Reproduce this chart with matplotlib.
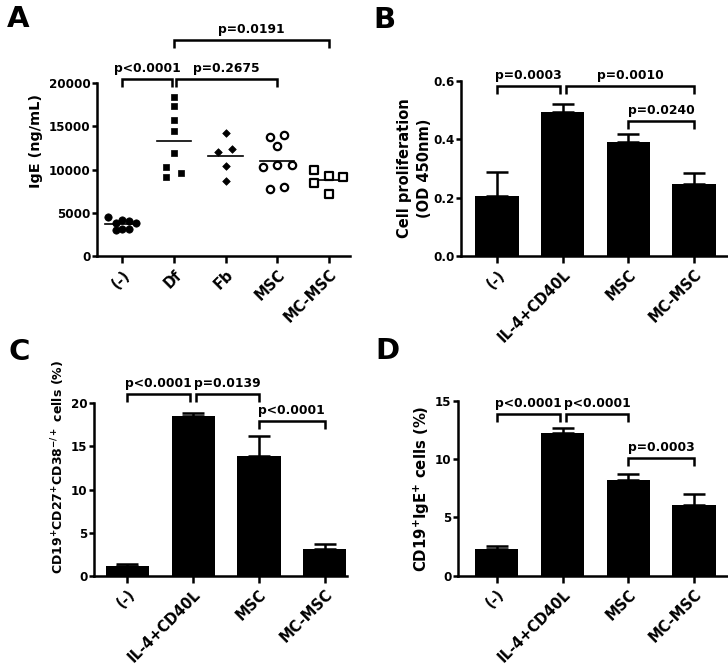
import matplotlib
matplotlib.use("Agg")
import matplotlib.pyplot as plt
import numpy as np

plt.rcParams["font.family"] = ["DejaVu Sans"]
plt.rcParams["font.weight"] = "bold"
plt.rcParams["axes.labelweight"] = "bold"
plt.rcParams["mathtext.default"] = "bf"
plt.rcParams["mathtext.fontset"] = "dejavusans"

# ---- panel A: IgE scatter (ng/mL)
a_groups = ["(-)", "Df", "Fb", "MSC", "MC-MSC"]
a_neg = [4550, 3850, 4150, 4100, 3780, 3050, 3080, 3080]
a_df = [18340, 17340, 15720, 14490, 11870, 10250, 9170, 9560]
a_fb = [14260, 12020, 12410, 10400, 8710]
a_msc = [13720, 14030, 12760, 10290, 10560, 10520, 7780, 8020]
a_mcmsc = [9940, 9290, 9170, 8480, 7210]
a_pvals = ["p<0.0001", "p=0.2675", "p=0.0191"]
a_pairs = [(0, 1), (1, 3), (1, 4)]
a_heights = [20460, 20460, 25000]

# ---- panel B: cell proliferation (OD 450nm)
b_groups = ["(-)", "IL-4+CD40L", "MSC", "MC-MSC"]
b_mean = [0.207, 0.493, 0.392, 0.247]
b_err = [0.080, 0.030, 0.025, 0.037]
b_pvals = ["p=0.0003", "p=0.0010", "p=0.0240"]
b_pairs = [(0, 1), (1, 3), (2, 3)]
b_heights = [0.583, 0.583, 0.462]

# ---- panel C: CD19+CD27+CD38-/+ cells (%)
c_groups = ["(-)", "IL-4+CD40L", "MSC", "MC-MSC"]
c_mean = [1.16, 18.49, 13.93, 3.13]
c_err = [0.23, 0.35, 2.32, 0.51]
c_pvals = ["p<0.0001", "p=0.0139", "p<0.0001"]
c_pairs = [(0, 1), (1, 2), (2, 3)]
c_heights = [21.07, 21.07, 17.95]

# ---- panel D: CD19+IgE+ cells (%)
d_groups = ["(-)", "IL-4+CD40L", "MSC", "MC-MSC"]
d_mean = [2.32, 12.28, 8.19, 6.04]
d_err = [0.26, 0.37, 0.57, 0.95]
d_pvals = ["p<0.0001", "p<0.0001", "p=0.0003"]
d_pairs = [(0, 1), (1, 2), (2, 3)]
d_heights = [13.88, 13.88, 10.08]

# horizontal spread of overlapping dots in panel A (category units)
a_offsets = [
    [-0.27, -0.13, 0.0, 0.13, 0.27, -0.13, 0.0, 0.13],
    [0.0, 0.0, 0.0, 0.0, 0.0, -0.15, -0.15, 0.135],
    [0.0, -0.14, 0.13, 0.0, 0.0],
    [-0.14, 0.135, 0.0, -0.27, 0.0, 0.28, -0.14, 0.135],
    [-0.28, 0.0, 0.27, -0.28, 0.0],
]

LW = 1.8


def style_axes(ax, groups, ymax, step, fmt):
    for side in ("top", "right"):
        ax.spines[side].set_visible(False)
    for side in ("left", "bottom"):
        ax.spines[side].set_linewidth(LW)
    ticks = np.arange(0, ymax + step / 2, step)
    ax.set_ylim(0, ymax)
    ax.set_yticks(ticks)
    ax.set_yticklabels([fmt.format(v) for v in ticks])
    ax.set_xticks(range(len(groups)))
    ax.set_xticklabels(groups, rotation=45, ha="right", va="top",
                       rotation_mode="anchor", fontsize=10.5)
    ax.tick_params(axis="x", direction="out", length=5, width=LW, pad=3)
    ax.tick_params(axis="y", direction="out", length=3.5, width=LW,
                   labelsize=8.6, pad=1.2)


def add_brackets(ax, pairs, heights, labels, ymax, gap=0.045):
    drop = 0.045 * ymax
    for (i, j), h, lab in zip(pairs, heights, labels):
        x1, x2 = float(i), float(j)
        for (k, l), hh in zip(pairs, heights):
            if hh != h:
                continue
            if l == i and (k, l) != (i, j):
                x1 += gap
            if k == j and (k, l) != (i, j):
                x2 -= gap
        ax.plot([x1, x1, x2, x2], [h - drop, h, h, h - drop], color="black",
                lw=LW, clip_on=False, solid_capstyle="butt", solid_joinstyle="miter")
        ax.annotate(lab, xy=((x1 + x2) / 2, h), xytext=(0, 5), textcoords="offset points",
                    ha="center", va="baseline", fontsize=8.9, annotation_clip=False)


def bar_panel(ax, groups, means, errs):
    x = np.arange(len(groups))
    ax.bar(x, means, width=0.66, color="black", zorder=2)
    ax.errorbar(x, means, yerr=[np.zeros(len(errs)), errs], fmt="none",
                ecolor="black", elinewidth=LW, capsize=7.8, capthick=LW,
                zorder=1, clip_on=False)


fig = plt.figure(figsize=(7.28, 6.72), dpi=100)

# Panel A
ax = fig.add_axes([0.1332, 0.6190, 0.3475, 0.2574])
a_series = [a_neg, a_df, a_fb, a_msc, a_mcmsc]
a_markers = [
    dict(marker="o", s=28, facecolor="black", edgecolor="black", linewidths=0.5),
    dict(marker="s", s=24, facecolor="black", edgecolor="black", linewidths=0.5),
    dict(marker="D", s=15, facecolor="black", edgecolor="black", linewidths=0.5),
    dict(marker="o", s=28, facecolor="white", edgecolor="black", linewidths=1.6),
    dict(marker="s", s=26, facecolor="white", edgecolor="black", linewidths=1.6),
]
for i, (vals, offs, mk) in enumerate(zip(a_series, a_offsets, a_markers)):
    ax.scatter(i + np.array(offs), vals, zorder=3, clip_on=False, **mk)
    m = np.mean(vals)
    ax.plot([i - 0.33, i + 0.33], [m, m], color="black", lw=1.2, zorder=2)
style_axes(ax, a_groups, 20000, 5000, "{:.0f}")
ax.set_xlim(-0.49, 4.41)
ax.set_ylabel("IgE (ng/mL)", fontsize=10.4)
ax.yaxis.set_label_coords(-0.215, 0.665)
add_brackets(ax, a_pairs, a_heights, a_pvals, 20000)

# Panel B
ax = fig.add_axes([0.6332, 0.6190, 0.3654, 0.2604])
bar_panel(ax, b_groups, b_mean, b_err)
style_axes(ax, b_groups, 0.6, 0.2, "{:.1f}")
ax.set_xlim(-0.55, 3.5)
ax.set_ylabel("Cell proliferation\n(OD 450nm)", fontsize=10.5, linespacing=1.45)
ax.yaxis.set_label_coords(-0.108, 0.5)
add_brackets(ax, b_pairs, b_heights, b_pvals, 0.6)

# Panel C
ax = fig.add_axes([0.1291, 0.1433, 0.3475, 0.2565])
bar_panel(ax, c_groups, c_mean, c_err)
style_axes(ax, c_groups, 20, 5, "{:.0f}")
ax.set_xlim(-0.51, 3.34)
ax.set_ylabel("CD19$^{+}$CD27$^{+}$CD38$^{-/+}$ cells (%)", fontsize=9.0)
ax.yaxis.set_label_coords(-0.107, 0.632)
add_brackets(ax, c_pairs, c_heights, c_pvals, 20)

# Panel D
ax = fig.add_axes([0.6291, 0.1433, 0.3695, 0.2600])
bar_panel(ax, d_groups, d_mean, d_err)
style_axes(ax, d_groups, 15, 5, "{:.0f}")
ax.set_xlim(-0.59, 3.5)
ax.set_ylabel("CD19$^{+}$IgE$^{+}$ cells (%)", fontsize=10.7)
ax.yaxis.set_label_coords(-0.095, 0.5)
add_brackets(ax, d_pairs, d_heights, d_pvals, 15)

# panel letters
for lab, x, y in [("A", 7, 5), ("B", 373, 6), ("C", 9, 338), ("D", 375, 337)]:
    fig.text(x / 728, 1 - y / 672, lab, fontsize=21, fontweight="bold", va="top", ha="left")

fig.savefig("out.png", dpi=100)
